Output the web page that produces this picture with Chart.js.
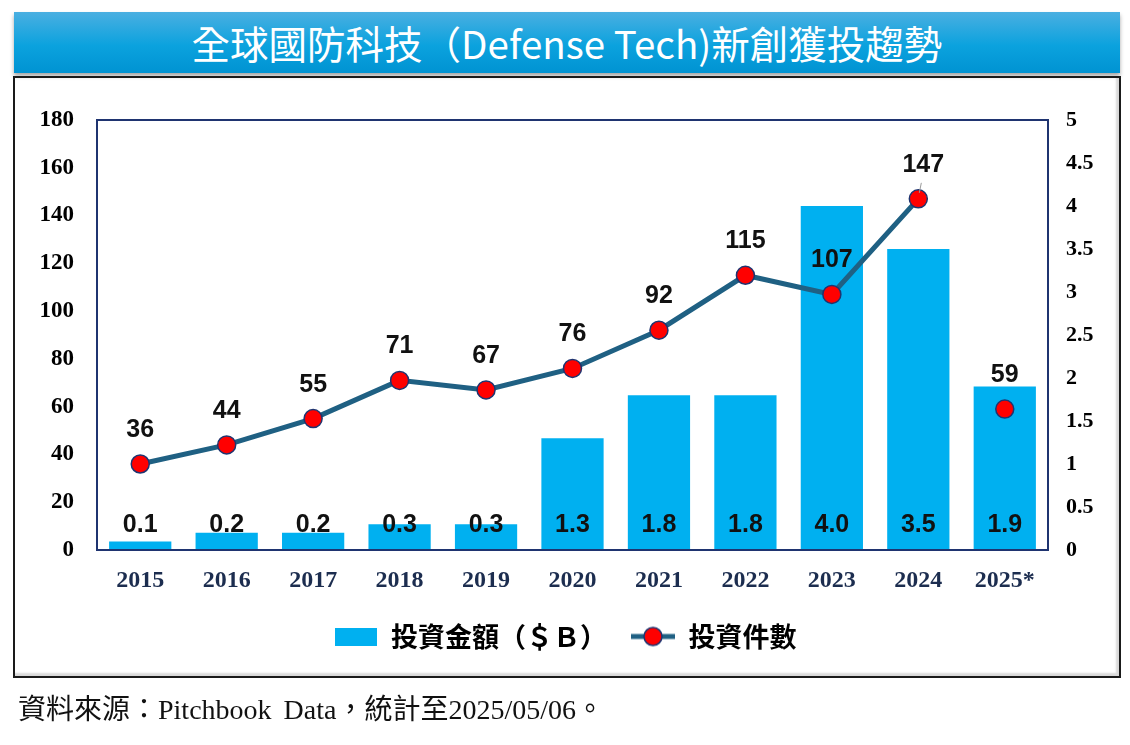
<!DOCTYPE html>
<html>
<head>
<meta charset="utf-8">
<script src="https://cdn.jsdelivr.net/npm/chart.js@4.4.1/dist/chart.umd.min.js"></script>
<style>
  body { margin: 0; width: 1130px; height: 745px; background: #fff; position: relative; overflow: hidden; }
  #titulo {
    position: absolute; left: 14px; top: 12px; width: 1106px; height: 61px;
    background: linear-gradient(#4AAFE1, #0BA2DE 55%, #0093D2);
    box-shadow: 0 3px 4px rgba(0, 0, 0, 0.35);
    color: #fff; font-family: "Noto Sans CJK TC", sans-serif; font-size: 38.5px;
    line-height: 61px; text-align: center;
  }
  #caixa {
    position: absolute; left: 13px; top: 76px; width: 1104px; height: 598px;
    border: 2px solid #1a1a1a;
    box-shadow: inset -3px -3px 2px rgba(0, 0, 0, 0.15);
  }
  #fonte {
    position: absolute; left: 18px; top: 693px; height: 34px; line-height: 34px;
    font-family: "Liberation Serif", "Noto Sans CJK TC", serif; font-size: 28px; word-spacing: 5px; color: #111;
  }
  #grafico { position: absolute; left: 0; top: 0; }
</style>
</head>
<body>
<div id="titulo">全球國防科技（Defense Tech)新創獲投趨勢</div>
<div id="caixa"></div>
<canvas id="grafico" width="1130" height="745"></canvas>
<div id="fonte">資料來源：Pitchbook Data，統計至2025/05/06。</div>

<script>
// dados
var anos = ['2015', '2016', '2017', '2018', '2019', '2020', '2021', '2022', '2023', '2024', '2025*'];
var valores = [0.1, 0.2, 0.2, 0.3, 0.3, 1.3, 1.8, 1.8, 4.0, 3.5, 1.9];   // investimento ($B)
var casos = [36, 44, 55, 71, 67, 76, 92, 115, 107, 147, 59];             // numero de rodadas
var ticksEsq = [0, 20, 40, 60, 80, 100, 120, 140, 160, 180];
var ticksDir = [0, 0.5, 1, 1.5, 2, 2.5, 3, 3.5, 4, 4.5, 5];
var legendaBarra = '投資金額（＄Ｂ）';
var legendaLinha = '投資件數';

var corBarra = '#00B0F0';
var corLinha = '#1F6083';
var corPonto = '#FF0000';
var corBorda = '#1F3470';

function iconeBarra() {
  var c = document.createElement('canvas');
  c.width = 42; c.height = 18;
  var g = c.getContext('2d');
  g.fillStyle = corBarra;
  g.fillRect(0, 0, 42, 18);
  return c;
}

function iconeLinha() {
  var c = document.createElement('canvas');
  c.width = 44; c.height = 22;
  var g = c.getContext('2d');
  g.strokeStyle = corLinha; g.lineWidth = 5;
  g.beginPath(); g.moveTo(0, 11); g.lineTo(44, 11); g.stroke();
  g.beginPath(); g.arc(22, 11, 9, 0, Math.PI * 2);
  g.fillStyle = corPonto; g.fill();
  g.strokeStyle = corBorda; g.lineWidth = 1.5; g.stroke();
  return c;
}

// moldura da area do grafico
var moldura = {
  id: 'moldura',
  afterDatasetsDraw: function (chart) {
    var a = chart.chartArea, ctx = chart.ctx;
    ctx.save();
    ctx.strokeStyle = corBorda;
    ctx.lineWidth = 2;
    ctx.strokeRect(a.left, a.top, a.right - a.left, a.bottom - a.top);
    ctx.restore();
  }
};

// rotulos de valores
var rotulos = {
  id: 'rotulos',
  afterDatasetsDraw: function (chart) {
    var ctx = chart.ctx;
    ctx.save();
    ctx.textAlign = 'center';
    ctx.textBaseline = 'middle';
    ctx.fillStyle = '#111';
    ctx.font = 'bold 25px "Liberation Sans", Arial, sans-serif';
    chart.getDatasetMeta(0).data.forEach(function (barra, i) {
      ctx.fillText(valores[i].toFixed(1), barra.x, barra.base - 25);
    });
    chart.getDatasetMeta(1).data.forEach(function (p, i) {
      var dx = (i === 9) ? 5 : 0;
      ctx.fillText(String(casos[i]), p.x + dx, p.y - 34);
      if (i === 9) {
        ctx.strokeStyle = '#9a9a9a';
        ctx.lineWidth = 1;
        ctx.beginPath();
        ctx.moveTo(p.x + 3, p.y - 16);
        ctx.lineTo(p.x + 1, p.y - 6);
        ctx.stroke();
      }
    });
    ctx.restore();
  }
};

function montaGrafico() {
  var ctx = document.getElementById('grafico').getContext('2d');
  var chart = new Chart(ctx, {
    type: 'bar',
    data: {
      labels: anos,
      datasets: [
        {
          type: 'bar',
          label: legendaBarra,
          data: valores,
          yAxisID: 'y1',
          backgroundColor: corBarra,
          borderWidth: 0,
          categoryPercentage: 1,
          barPercentage: 0.72,
          order: 1
        },
        {
          type: 'line',
          label: legendaLinha,
          data: casos,
          yAxisID: 'y',
          borderColor: corLinha,
          borderWidth: 5,
          pointRadius: 9,
          pointHoverRadius: 9,
          pointBackgroundColor: corPonto,
          pointBorderColor: corBorda,
          pointBorderWidth: 1.5,
          segment: {
            borderColor: function (s) { return s.p1DataIndex === 10 ? 'rgba(0,0,0,0)' : undefined; }
          },
          order: 0
        }
      ]
    },
    options: {
      responsive: false,
      animation: false,
      layout: { padding: { top: 120, left: 0, right: 0, bottom: 85 } },
      plugins: {
        tooltip: { enabled: false },
        legend: {
          position: 'bottom',
          labels: {
            usePointStyle: true,
            pointStyleWidth: 44,
            padding: 24,
            color: '#000',
            font: { family: '"Noto Sans CJK TC", sans-serif', size: 27, weight: 'bold' },
            generateLabels: function () {
              return [
                { text: legendaBarra, pointStyle: iconeBarra(), datasetIndex: 0, hidden: false, lineWidth: 0, fillStyle: corBarra, strokeStyle: corBarra, fontColor: '#000' },
                { text: legendaLinha, pointStyle: iconeLinha(), datasetIndex: 1, hidden: false, lineWidth: 0, fillStyle: corPonto, strokeStyle: corLinha, fontColor: '#000' }
              ];
            }
          }
        }
      },
      scales: {
        x: {
          grid: { display: false, drawTicks: false },
          border: { display: false },
          ticks: {
            padding: 16,
            color: '#1C2D4F',
            font: { family: '"Liberation Serif", "Times New Roman", serif', size: 24, weight: 'bold' }
          },
          afterFit: function (s) { s.height = 49; }
        },
        y: {
          position: 'left',
          min: 0, max: 180,
          grid: { display: false, drawTicks: false },
          border: { display: false },
          afterBuildTicks: function (s) { s.ticks = ticksEsq.map(function (v) { return { value: v }; }); },
          ticks: {
            padding: 23,
            color: '#000',
            font: { family: '"Liberation Serif", "Times New Roman", serif', size: 23, weight: 'bold' },
            callback: function (v) { return String(v); }
          },
          afterFit: function (s) { s.width = 97; }
        },
        y1: {
          position: 'right',
          min: 0, max: 5,
          grid: { display: false, drawTicks: false },
          border: { display: false },
          afterBuildTicks: function (s) { s.ticks = ticksDir.map(function (v) { return { value: v }; }); },
          ticks: {
            padding: 18,
            color: '#000',
            font: { family: '"Liberation Serif", "Times New Roman", serif', size: 22, weight: 'bold' },
            callback: function (v) { return String(v); }
          },
          afterFit: function (s) { s.width = 82; }
        }
      }
    },
    plugins: [moldura, rotulos]
  });
}

montaGrafico();
</script>
</body>
</html>
